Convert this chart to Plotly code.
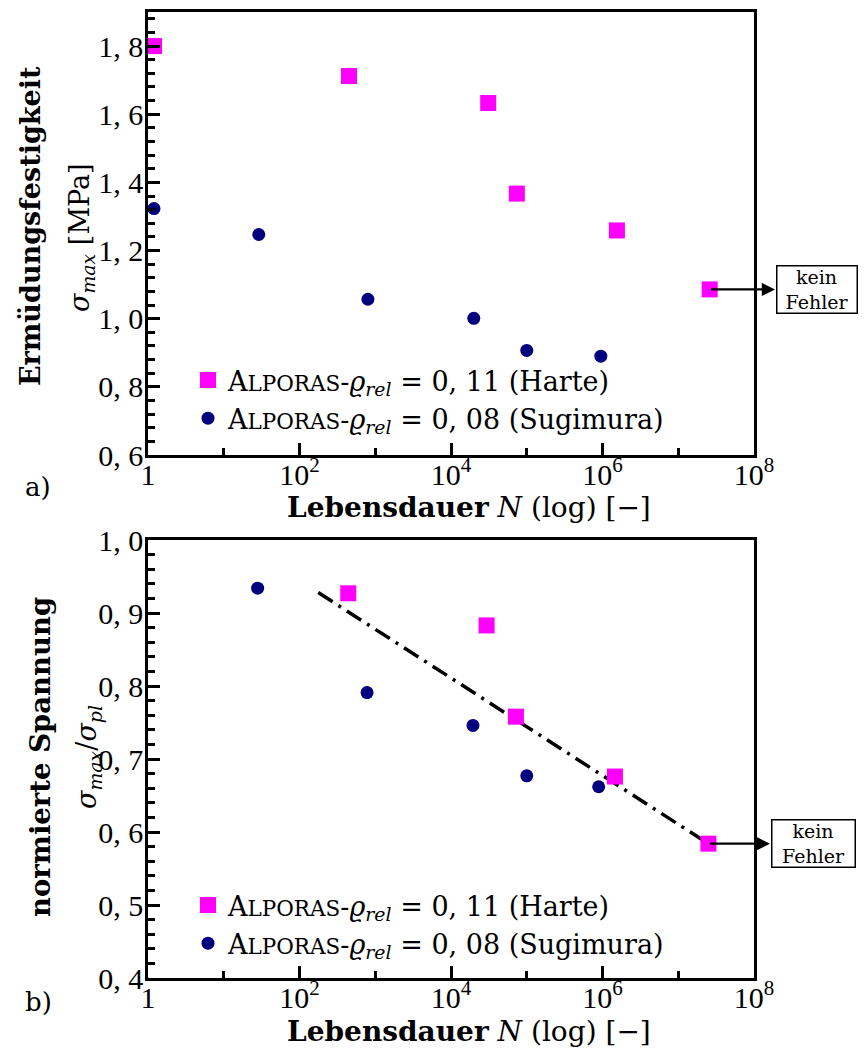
import numpy as np
import plotly.graph_objects as go

# ---------------- data ----------------
# (a) fatigue strength
harte_N_a = [1.2, 450, 31000, 74000, 1.55e6, 2.6e7]
harte_s_a = [1.80, 1.712, 1.633, 1.367, 1.259, 1.086]
sugi_N_a = [1.2, 29, 800, 20000, 1.0e5, 9.5e5]
sugi_s_a = [1.323, 1.247, 1.057, 1.001, 0.907, 0.890]

# (b) normalised stress
harte_N_b = [440, 29500, 72000, 1.46e6, 2.5e7]
harte_s_b = [0.927, 0.883, 0.758, 0.676, 0.584]
sugi_N_b = [28, 780, 19500, 1.0e5, 8.9e5]
sugi_s_b = [0.934, 0.791, 0.746, 0.677, 0.662]

fit_N = [177, 2.5e7]
fit_s = [0.928, 0.584]

x_tickvals = [1, 1e2, 1e4, 1e6, 1e8]
x_ticktext = ["1", "10<sup>2</sup>", "10<sup>4</sup>", "10<sup>6</sup>", "10<sup>8</sup>"]
x_minorvals = [10, 1e3, 1e5, 1e7]
ya_tickvals = [0.6, 0.8, 1.0, 1.2, 1.4, 1.6, 1.8]
ya_ticktext = ["0, 6", "0, 8", "1, 0", "1, 2", "1, 4", "1, 6", "1, 8"]
yb_tickvals = [0.4, 0.5, 0.6, 0.7, 0.8, 0.9, 1.0]
yb_ticktext = ["0, 4", "0, 5", "0, 6", "0, 7", "0, 8", "0, 9", "1, 0"]

name_harte = "A<span style='font-size:21.5px'>LPORAS</span>-<i>ϱ</i><sub><i>rel</i></sub> = 0, 11 (Harte)"
name_sugi = "A<span style='font-size:21.5px'>LPORAS</span>-<i>ϱ</i><sub><i>rel</i></sub> = 0, 08 (Sugimura)"

MAG = "#FF00FF"
NAV = "#00007F"
TICKFONT = "Liberation Serif"
FONT = "DejaVu Serif"

# ---------------- layout geometry (pixels) ----------------
W, H = 867, 1053
L, R, T, B = 148, 113, 12, 75
PW = W - L - R
PH = H - T - B
DEC = PW / 8.0  # pixels per decade


def px(xp):
    return (xp - L) / PW


def py(yp):
    return (H - B - yp) / PH


fig = go.Figure()

sq = dict(symbol="square", size=16, color=MAG)
ci = dict(symbol="circle", size=13, color=NAV)

fig.add_trace(go.Scatter(x=harte_N_a, y=harte_s_a, mode="markers", marker=sq,
                         name=name_harte, xaxis="x2", yaxis="y2", legend="legend2"))
fig.add_trace(go.Scatter(x=sugi_N_a, y=sugi_s_a, mode="markers", marker=ci,
                         name=name_sugi, xaxis="x2", yaxis="y2", legend="legend2"))

fig.add_trace(go.Scatter(x=fit_N, y=fit_s, mode="lines",
                         line=dict(color="black", width=3.5, dash="17px,7px,3px,7px"),
                         showlegend=False, xaxis="x", yaxis="y"))
fig.add_trace(go.Scatter(x=harte_N_b, y=harte_s_b, mode="markers", marker=sq,
                         name=name_harte, xaxis="x", yaxis="y", legend="legend"))
fig.add_trace(go.Scatter(x=sugi_N_b, y=sugi_s_b, mode="markers", marker=ci,
                         name=name_sugi, xaxis="x", yaxis="y", legend="legend"))

axis_common = dict(showline=True, linecolor="black", linewidth=2.5, mirror=True,
                   ticks="inside", ticklen=12, tickwidth=2.5, tickcolor="black",
                   showgrid=False, zeroline=False, automargin=False,
                   tickfont=dict(family=TICKFONT, size=30, color="black"))

xcommon = dict(axis_common, type="log", range=[0, 8], tickmode="array",
               tickvals=x_tickvals, ticktext=x_ticktext, ticklabelstandoff=-9,
               minor=dict(tickmode="array", tickvals=x_minorvals, ticks="inside",
                          ticklen=7, tickwidth=2.5, tickcolor="black", showgrid=False))

legend_common = dict(xanchor="left", yanchor="top", bgcolor="rgba(0,0,0,0)",
                     font=dict(family=FONT, size=27), tracegroupgap=0)

fig.update_layout(
    width=W, height=H,
    margin=dict(l=L, r=R, t=T, b=B, autoexpand=False),
    paper_bgcolor="white", plot_bgcolor="white",
    font=dict(family=FONT, size=26, color="black"),
    xaxis=dict(xcommon, anchor="y", domain=[0, 1]),
    yaxis=dict(axis_common, anchor="x", domain=[0, py(540)], range=[0.4, 1.0],
               tickmode="array", tickvals=yb_tickvals, ticktext=yb_ticktext,
               ticklabelstandoff=-4,
               minor=dict(dtick=0.02, tick0=0.4, ticks="inside", ticklen=7,
                          tickwidth=2.5, tickcolor="black", showgrid=False)),
    xaxis2=dict(xcommon, anchor="y2", domain=[0, 1]),
    yaxis2=dict(axis_common, anchor="x2", domain=[py(455), 1], range=[0.6, 1.9],
                tickmode="array", tickvals=ya_tickvals, ticktext=ya_ticktext,
                ticklabelstandoff=-4,
                minor=dict(dtick=0.04, tick0=0.6, ticks="inside", ticklen=7,
                           tickwidth=2.5, tickcolor="black", showgrid=False)),
    legend2=dict(legend_common, x=px(188), y=py(356)),
    legend=dict(legend_common, x=px(188), y=py(881)),
)


def label(text, xp, yp, size=26, angle=0):
    return dict(text=text, x=px(xp), y=py(yp), xref="paper", yref="paper",
                xanchor="center", yanchor="middle", showarrow=False,
                textangle=angle, font=dict(family=FONT, size=size))


ann = []
ann.append(label("a)", 38, 487))
ann.append(label("b)", 38, 1002))
xt = "<b>Lebensdauer</b> <i>N</i> (log) [−]"
ann.append(label(xt, 469, 508, 28))
ann.append(label(xt, 469, 1031, 28))
ann.append(label("<b>Ermüdungsfestigkeit</b>", 30, 226, 27, -90))
ann.append(label("<i>σ</i><sub><i>max</i></sub> [MPa]", 82, 238, 27, -90))
ann.append(label("<b>normierte Spannung</b>", 40, 757, 27.5, -90))
ann.append(label("<i>σ</i><sub><i>max</i></sub>/<i>σ</i><sub><i>pl</i></sub>", 88, 757, 27, -90))

# arrows and "kein Fehler" boxes
for (xr, yr, N_last, s_last, box_l, box_r, box_cy) in [
        ("x2", "y2", harte_N_a[-1], harte_s_a[-1], 775, 858, 289),
        ("x", "y", harte_N_b[-1], harte_s_b[-1], 770, 856, 843)]:
    ann.append(dict(text="", xref=xr, yref=yr, x=(box_l - L) / DEC, y=s_last,
                    axref=xr, ayref=yr, ax=np.log10(N_last), ay=s_last,
                    showarrow=True, arrowhead=2, arrowsize=1.2, arrowwidth=2.2,
                    arrowcolor="black", standoff=0, startstandoff=0))
    ann.append(dict(text="kein<br>Fehler", xref="paper", yref="paper",
                    x=px((box_l + box_r) / 2), y=py(box_cy), xanchor="center",
                    yanchor="middle", showarrow=False, width=box_r - box_l - 4,
                    height=46, bordercolor="black", borderwidth=1.5, borderpad=0,
                    bgcolor="white", font=dict(family=FONT, size=19)))

fig.update_layout(annotations=ann)
fig.write_html("out.html")
